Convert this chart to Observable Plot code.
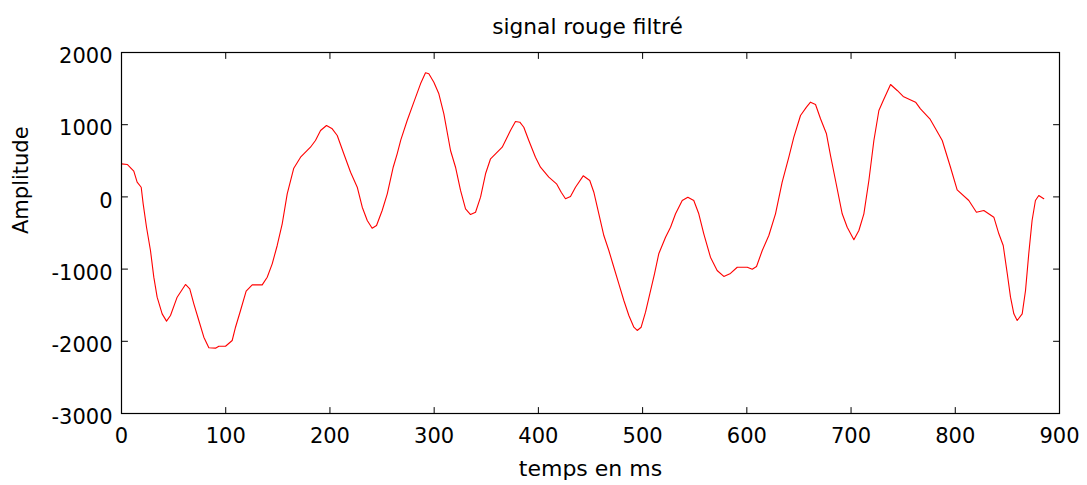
<!DOCTYPE html>
<html>
<head>
<meta charset="utf-8">
<script src="https://cdn.jsdelivr.net/npm/d3@7"></script>
<script src="https://cdn.jsdelivr.net/npm/@observablehq/plot@0.6"></script>
<style>
  body { margin: 0; background: #fff; font-family: "DejaVu Sans", sans-serif; }
  #title { width: 1087px; height: 44px; box-sizing: border-box; padding-top: 16px; padding-left: 88px; font-size: 21.7px; line-height: 22px; text-align: center; color: #000; white-space: nowrap; }
</style>
</head>
<body>
<div id="title"></div>
<div id="chart"></div>
<script>
const titleText = "signal rouge filtré";
const xLabel = "temps en ms";
const yLabel = "Amplitude";
const xTicks = [0, 100, 200, 300, 400, 500, 600, 700, 800, 900];
const yTicks = [-3000, -2000, -1000, 0, 1000, 2000];

// time (ms) and amplitude
const timeMs = [0, 5.5, 11.8, 15, 18.9, 20.8, 24, 27.8, 31, 34.2, 39, 43.2, 47, 53.4, 61.4, 65.5, 69.4, 74.2, 79, 83.8, 90.2, 93.4, 99.8, 106.2, 109.4, 114.2, 119.6, 125.4, 135, 139.8, 144.6, 149.4, 154.2, 159, 165.3, 171.8, 181.3, 186.1, 191, 196.7, 202.2, 207, 213.3, 219.8, 226.2, 231, 235.8, 240.5, 244.7, 250.1, 255, 260.7, 264.5, 268, 274.1, 280.5, 286.9, 291.7, 294.9, 299.7, 304.5, 309.3, 315.7, 320.5, 325.3, 330.1, 334.9, 339.7, 344.5, 349.3, 354.1, 365.3, 373.2, 378, 382.2, 386, 390.8, 397.2, 402, 410, 417.4, 421.9, 426, 430.8, 435.6, 443, 449.3, 453.2, 458, 462.8, 467.6, 472.4, 477.2, 482, 486.8, 491.6, 494.8, 498.6, 502.8, 506.9, 511.4, 515.5, 522, 526.8, 531.6, 538, 543.4, 549.1, 553.9, 558.7, 565.1, 571.5, 577.9, 584.3, 590.8, 600.4, 605.2, 609.3, 614.8, 621.1, 627.5, 633.9, 640.3, 645.1, 651.5, 657.2, 661.1, 665.9, 670.7, 676.4, 680.3, 685.1, 691.5, 696.3, 702.7, 707.5, 712.3, 717.1, 721.9, 726.7, 730.9, 737.9, 744.3, 750, 761.9, 766.6, 775.6, 781.1, 787.5, 795.4, 801.8, 813, 820.3, 827.4, 837, 841.8, 846, 849.9, 853, 856.2, 859.4, 864.2, 867.4, 870.5, 873.7, 876.9, 880.1, 884.9];
const amplitude = [458, 449, 356, 204, 134, -96, -420, -742, -1112, -1389, -1620, -1721, -1643, -1389, -1213, -1273, -1481, -1712, -1943, -2090, -2095, -2068, -2068, -1989, -1805, -1573, -1306, -1218, -1218, -1112, -927, -673, -373, 43, 398, 550, 688, 781, 920, 989, 943, 850, 597, 342, 134, -143, -327, -434, -396, -188, 43, 411, 597, 790, 1058, 1312, 1566, 1719, 1705, 1589, 1428, 1151, 643, 411, 89, -165, -244, -212, -4, 320, 528, 688, 920, 1044, 1035, 965, 781, 550, 411, 273, 181, 65, -26, 6, 134, 292, 227, 65, -234, -535, -742, -974, -1204, -1435, -1643, -1805, -1850, -1805, -1597, -1342, -1065, -788, -558, -420, -234, -50, -4, -50, -234, -511, -835, -1019, -1102, -1060, -974, -974, -1001, -964, -742, -535, -234, 204, 550, 827, 1127, 1243, 1312, 1280, 1082, 874, 573, 227, -234, -420, -594, -465, -234, 227, 781, 1197, 1335, 1557, 1474, 1391, 1312, 1220, 1082, 943, 781, 411, 98, -50, -212, -188, -281, -511, -673, -1065, -1389, -1620, -1712, -1620, -1296, -788, -327, -50, 19, -26];

document.getElementById("title").textContent = titleText;

const data = timeMs.map((t, i) => ({t, v: amplitude[i]}));
const font = "DejaVu Sans, sans-serif";
const tickShape = {draw(context, l) { context.moveTo(0, 0); context.lineTo(0, -l); }};
const tickLen = 6;

const chart = Plot.plot({
  width: 1087,
  height: 441,
  marginLeft: 121,
  marginRight: 28,
  marginTop: 8,
  marginBottom: 72,
  style: {fontFamily: font, fontSize: "21px", color: "#000", background: "#fff"},
  x: {domain: [0, 900]},
  y: {domain: [-3000, 2000]},
  marks: [
    Plot.line(data, {x: "t", y: "v", stroke: "#ff0000", strokeWidth: 1.1}),
    Plot.frame({stroke: "#000", strokeWidth: 1.2}),
    // inward ticks on all four sides
    Plot.vector(xTicks, {x: d => d, frameAnchor: "bottom", length: tickLen, rotate: 0, anchor: "start", shape: tickShape, stroke: "#000", strokeWidth: 1}),
    Plot.vector(xTicks, {x: d => d, frameAnchor: "top", length: tickLen, rotate: 180, anchor: "start", shape: tickShape, stroke: "#000", strokeWidth: 1}),
    Plot.vector(yTicks, {y: d => d, frameAnchor: "left", length: tickLen, rotate: 90, anchor: "start", shape: tickShape, stroke: "#000", strokeWidth: 1}),
    Plot.vector(yTicks, {y: d => d, frameAnchor: "right", length: tickLen, rotate: -90, anchor: "start", shape: tickShape, stroke: "#000", strokeWidth: 1}),
    Plot.axisX({ticks: xTicks, anchor: "bottom", tickSize: 0, tickPadding: 15, tickFormat: d => String(d), label: null, fontSize: 21}),
    Plot.axisY({ticks: yTicks, anchor: "left", tickSize: 0, tickPadding: 9, tickFormat: d => String(d), label: null, fontSize: 21, dy: 4}),
    Plot.text([xLabel], {text: d => d, frameAnchor: "bottom", dy: 55, lineAnchor: "middle", fontSize: 22}),
    Plot.text([yLabel], {text: d => d, frameAnchor: "left", dx: -100, dy: 1, rotate: -90, lineAnchor: "middle", fontSize: 21})
  ]
});
document.getElementById("chart").appendChild(chart);
</script>
</body>
</html>
